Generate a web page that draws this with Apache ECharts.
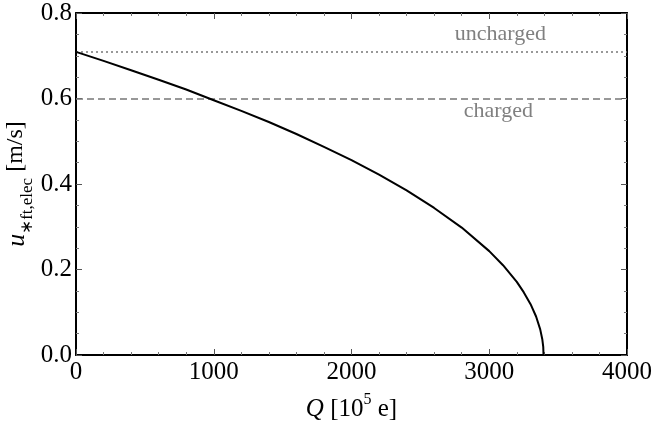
<!DOCTYPE html>
<html>
<head>
<meta charset="utf-8">
<script src="https://cdn.jsdelivr.net/npm/echarts@6/dist/echarts.min.js"></script>
<style>html,body{margin:0;padding:0;background:#fff}#c{width:654px;height:431px}</style>
</head>
<body>
<div id="c"></div>
<script>
// Data
var chargeQ = [0, 200, 400, 600, 800, 1000, 1200, 1400, 1600, 1800, 2000, 2200, 2400, 2600, 2800, 3000, 3100, 3200, 3250, 3300, 3340, 3370, 3385, 3392, 3394];
var uValues = [0.709, 0.688, 0.666, 0.644, 0.621, 0.596, 0.571, 0.545, 0.517, 0.487, 0.456, 0.422, 0.385, 0.344, 0.298, 0.243, 0.210, 0.171, 0.147, 0.119, 0.090, 0.060, 0.037, 0.019, 0.0];
var uUncharged = 0.71;
var uCharged = 0.60;
var xTicks = [0, 1000, 2000, 3000, 4000];
var yTicks = [0.0, 0.2, 0.4, 0.6, 0.8];

var FONT = 'Liberation Serif';
var curve = chargeQ.map(function (q, i) { return [q, uValues[i]]; });

var tickStyle = { show: true, inside: true, length: 6, lineStyle: { color: '#555', width: 1 } };
var minorStyle = { show: true, length: 3, lineStyle: { color: '#777', width: 1 } };

var chart = echarts.init(document.getElementById('c'), null, { renderer: 'canvas' });
chart.setOption({
  animation: false,
  backgroundColor: '#fff',
  grid: { left: 76, right: 27, top: 13, bottom: 76, containLabel: false, outerBoundsMode: 'none' },
  xAxis: [{
    type: 'value', min: xTicks[0], max: xTicks[xTicks.length - 1], interval: 1000,
    axisLine: { show: true, onZero: false, lineStyle: { color: '#000', width: 2 } },
    axisTick: tickStyle, minorTick: Object.assign({ splitNumber: 5 }, minorStyle),
    splitLine: { show: false },
    axisLabel: { color: '#000', fontFamily: FONT, fontSize: 25, margin: 5, formatter: function (v) { return String(v); } },
    name: '{i|Q} {n|[10}{s|5}{n| e]}', nameLocation: 'middle', nameGap: 37, nameMoveOverlap: false,
    nameTextStyle: {
      color: '#000', fontFamily: FONT, fontSize: 25,
      rich: {
        i: { fontFamily: FONT, fontSize: 25, fontStyle: 'italic', color: '#000', lineHeight: 30, verticalAlign: 'bottom' },
        n: { fontFamily: FONT, fontSize: 25, color: '#000', lineHeight: 30, verticalAlign: 'bottom' },
        s: { fontFamily: FONT, fontSize: 16, color: '#000', lineHeight: 30, verticalAlign: 'top' }
      }
    }
  }, {
    type: 'value', position: 'top', min: xTicks[0], max: xTicks[xTicks.length - 1], interval: 1000,
    axisLine: { show: true, onZero: false, lineStyle: { color: '#000', width: 2 } },
    axisTick: tickStyle, minorTick: Object.assign({ splitNumber: 5 }, minorStyle),
    splitLine: { show: false }, axisLabel: { show: false }
  }],
  yAxis: [{
    type: 'value', min: yTicks[0], max: yTicks[yTicks.length - 1], interval: 0.2,
    axisLine: { show: true, onZero: false, lineStyle: { color: '#000', width: 2 } },
    axisTick: tickStyle, minorTick: Object.assign({ splitNumber: 4 }, minorStyle),
    splitLine: { show: false },
    axisLabel: { color: '#000', fontFamily: FONT, fontSize: 25, margin: 4, formatter: function (v) { return v.toFixed(1); } },
    name: '{i|u}{s|∗ft,elec}{n| [m/s]}', nameLocation: 'middle', nameGap: 40, nameRotate: 90, nameMoveOverlap: false,
    nameTextStyle: {
      color: '#000', fontFamily: FONT, fontSize: 24,
      rich: {
        i: { fontFamily: FONT, fontSize: 26, fontStyle: 'italic', color: '#000', lineHeight: 32, verticalAlign: 'top' },
        n: { fontFamily: FONT, fontSize: 24, color: '#000', lineHeight: 32, verticalAlign: 'top' },
        s: { fontFamily: FONT, fontSize: 17, color: '#000', lineHeight: 32, verticalAlign: 'bottom' }
      }
    }
  }, {
    type: 'value', position: 'right', min: yTicks[0], max: yTicks[yTicks.length - 1], interval: 0.2,
    axisLine: { show: true, onZero: false, lineStyle: { color: '#000', width: 2 } },
    axisTick: tickStyle, minorTick: Object.assign({ splitNumber: 4 }, minorStyle),
    splitLine: { show: false }, axisLabel: { show: false }
  }],
  series: [{
    type: 'line', data: curve, showSymbol: false, symbol: 'none', smooth: false,
    lineStyle: { color: '#000', width: 2 }, z: 5,
    markLine: {
      silent: true, symbol: 'none',
      data: [
        { yAxis: uUncharged, lineStyle: { type: [2, 3], color: '#777', width: 1.5 },
          label: { show: true, formatter: 'uncharged', position: 'insideEndTop', distance: [81, 6], color: '#808080', fontFamily: FONT, fontSize: 22 } },
        { yAxis: uCharged, lineStyle: { type: [7, 4], color: '#777', width: 1.5 },
          label: { show: true, formatter: 'charged', position: 'insideEndBottom', distance: [94, 2], color: '#808080', fontFamily: FONT, fontSize: 22 } }
      ]
    }
  }]
});
</script>
</body>
</html>
